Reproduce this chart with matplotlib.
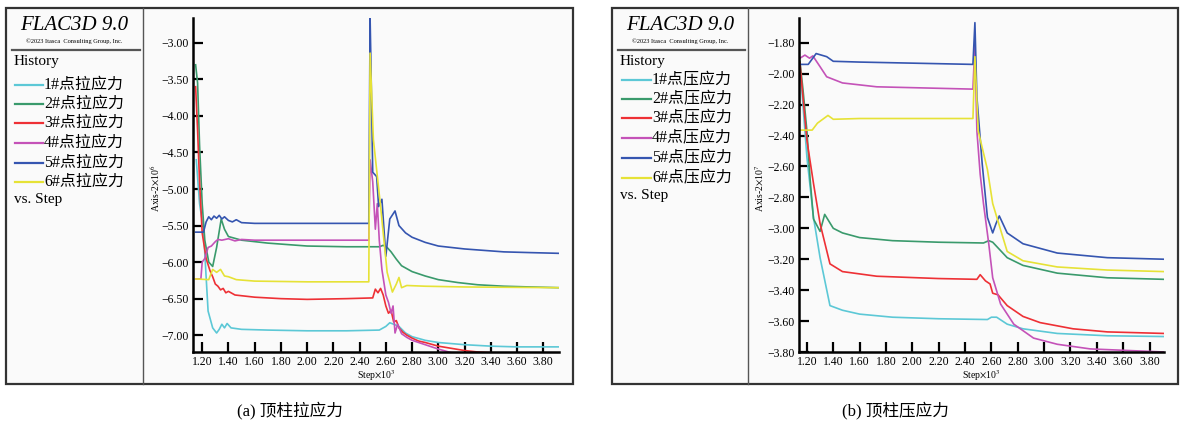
import matplotlib.pyplot as plt
from matplotlib.patches import Rectangle
from matplotlib.lines import Line2D
from matplotlib.ticker import FuncFormatter, MultipleLocator

plt.rcParams['mathtext.fontset'] = 'stix'
SERIF = ['Liberation Serif', 'Noto Sans CJK SC', 'DejaVu Serif']
CJK = ['Liberation Serif', 'Noto Sans CJK SC']

colors = ['#5cc8d6', '#3a9a6c', '#ee3035', '#c452b8', '#3555b0', '#e6e236']

# (a) tension histories, step x10^3 vs stress x10^6
a_names = ['1#点拉应力', '2#点拉应力', '3#点拉应力', '4#点拉应力', '5#点拉应力', '6#点拉应力']
a1_x = [1.155, 1.18, 1.21, 1.23, 1.245, 1.28, 1.31, 1.33, 1.35, 1.37, 1.39, 1.42, 1.50, 1.70, 2.00, 2.30, 2.55, 2.60, 2.63, 2.66, 2.70, 2.75, 2.80, 2.90, 3.00, 3.20, 3.40, 3.60, 3.92]
a1_y = [-4.60, -5.20, -5.55, -6.20, -6.67, -6.90, -6.97, -6.92, -6.85, -6.90, -6.84, -6.90, -6.92, -6.93, -6.94, -6.94, -6.93, -6.88, -6.83, -6.85, -6.88, -6.97, -7.02, -7.07, -7.10, -7.13, -7.15, -7.16, -7.16]
a2_x = [1.15, 1.165, 1.18, 1.20, 1.22, 1.25, 1.28, 1.31, 1.345, 1.37, 1.40, 1.50, 1.70, 2.00, 2.30, 2.55, 2.58, 2.61, 2.64, 2.68, 2.72, 2.80, 2.90, 3.00, 3.15, 3.30, 3.50, 3.70, 3.92]
a2_y = [-3.30, -3.55, -4.40, -5.20, -5.70, -6.00, -6.06, -5.80, -5.41, -5.55, -5.65, -5.70, -5.74, -5.78, -5.79, -5.79, -5.77, -5.80, -5.86, -5.96, -6.05, -6.13, -6.19, -6.24, -6.28, -6.31, -6.33, -6.34, -6.35]
a3_x = [1.15, 1.165, 1.18, 1.20, 1.23, 1.26, 1.28, 1.30, 1.32, 1.34, 1.36, 1.38, 1.40, 1.45, 1.50, 1.60, 1.80, 2.00, 2.30, 2.50, 2.52, 2.54, 2.56, 2.58, 2.60, 2.62, 2.64, 2.66, 2.68, 2.70, 2.73, 2.76, 2.80, 2.85, 2.90, 3.00, 3.10, 3.20, 3.30, 3.50, 3.92]
a3_y = [-3.60, -4.20, -4.90, -5.60, -5.95, -6.12, -6.20, -6.30, -6.33, -6.38, -6.36, -6.42, -6.40, -6.45, -6.46, -6.48, -6.50, -6.51, -6.50, -6.49, -6.37, -6.42, -6.36, -6.45, -6.60, -6.70, -6.66, -6.82, -6.80, -6.90, -6.96, -7.00, -7.04, -7.08, -7.10, -7.15, -7.18, -7.21, -7.23, -7.25, -7.27]
a4_x = [1.15, 1.19, 1.20, 1.22, 1.245, 1.27, 1.30, 1.32, 1.35, 1.40, 1.45, 1.50, 1.60, 1.80, 2.00, 2.47, 2.48, 2.50, 2.52, 2.535, 2.55, 2.57, 2.60, 2.62, 2.64, 2.655, 2.67, 2.69, 2.72, 2.76, 2.80, 2.90, 3.00, 3.10, 3.92]
a4_y = [-6.23, -6.23, -6.00, -5.95, -5.80, -5.78, -5.72, -5.69, -5.70, -5.68, -5.71, -5.69, -5.70, -5.70, -5.70, -5.70, -4.60, -4.90, -5.55, -5.20, -5.70, -6.10, -6.45, -6.55, -6.70, -6.60, -6.97, -6.85, -6.98, -7.03, -7.07, -7.13, -7.19, -7.24, -7.30]
a5_x = [1.15, 1.21, 1.23, 1.25, 1.27, 1.29, 1.31, 1.33, 1.35, 1.37, 1.40, 1.43, 1.46, 1.50, 1.60, 2.00, 2.47, 2.48, 2.485, 2.50, 2.53, 2.545, 2.57, 2.60, 2.63, 2.67, 2.70, 2.75, 2.80, 2.90, 3.00, 3.20, 3.50, 3.70, 3.92]
a5_y = [-5.59, -5.59, -5.45, -5.38, -5.42, -5.37, -5.40, -5.36, -5.41, -5.38, -5.43, -5.45, -5.42, -5.46, -5.47, -5.47, -5.47, -2.66, -3.14, -4.77, -4.83, -5.24, -5.14, -5.92, -5.41, -5.30, -5.50, -5.60, -5.66, -5.73, -5.78, -5.82, -5.86, -5.87, -5.88]
a6_x = [1.15, 1.25, 1.28, 1.31, 1.34, 1.37, 1.40, 1.46, 1.60, 2.00, 2.47, 2.48, 2.505, 2.56, 2.61, 2.65, 2.68, 2.70, 2.72, 2.76, 2.90, 3.20, 3.92]
a6_y = [-6.23, -6.24, -6.10, -6.14, -6.10, -6.19, -6.20, -6.24, -6.26, -6.27, -6.27, -3.14, -4.32, -5.24, -6.14, -6.41, -6.30, -6.21, -6.35, -6.32, -6.33, -6.34, -6.35]

# (b) compression histories, step x10^3 vs stress x10^7
b_names = ['1#点压应力', '2#点压应力', '3#点压应力', '4#点压应力', '5#点压应力', '6#点压应力']
b1_x = [1.147, 1.17, 1.20, 1.25, 1.30, 1.375, 1.47, 1.60, 1.85, 2.20, 2.57, 2.60, 2.64, 2.72, 2.84, 3.10, 3.48, 3.91]
b1_y = [-1.95, -2.20, -2.54, -2.93, -3.19, -3.50, -3.53, -3.555, -3.575, -3.585, -3.59, -3.575, -3.575, -3.62, -3.65, -3.68, -3.695, -3.70]
b2_x = [1.147, 1.17, 1.20, 1.225, 1.25, 1.30, 1.335, 1.40, 1.47, 1.60, 1.85, 2.20, 2.54, 2.58, 2.61, 2.72, 2.84, 3.10, 3.48, 3.91]
b2_y = [-1.92, -2.10, -2.37, -2.69, -2.94, -3.02, -2.91, -3.00, -3.03, -3.06, -3.08, -3.09, -3.095, -3.08, -3.09, -3.19, -3.24, -3.29, -3.32, -3.33]
b3_x = [1.147, 1.17, 1.20, 1.25, 1.30, 1.375, 1.47, 1.73, 2.20, 2.49, 2.515, 2.555, 2.59, 2.61, 2.65, 2.72, 2.84, 2.97, 3.22, 3.48, 3.91]
b3_y = [-1.93, -2.15, -2.43, -2.71, -2.97, -3.23, -3.28, -3.31, -3.325, -3.33, -3.30, -3.34, -3.36, -3.42, -3.43, -3.50, -3.57, -3.61, -3.65, -3.67, -3.68]
b4_x = [1.147, 1.185, 1.22, 1.245, 1.30, 1.35, 1.47, 1.73, 2.46, 2.475, 2.49, 2.515, 2.54, 2.58, 2.61, 2.67, 2.77, 2.92, 3.10, 3.35, 3.91]
b4_y = [-1.90, -1.88, -1.90, -1.885, -1.955, -2.02, -2.06, -2.085, -2.10, -1.80, -2.37, -2.65, -2.84, -3.10, -3.32, -3.49, -3.62, -3.71, -3.75, -3.78, -3.80]
b5_x = [1.147, 1.21, 1.27, 1.35, 1.40, 1.60, 2.46, 2.475, 2.49, 2.53, 2.57, 2.61, 2.635, 2.66, 2.72, 2.84, 3.10, 3.48, 3.91]
b5_y = [-1.94, -1.94, -1.87, -1.89, -1.92, -1.925, -1.94, -1.67, -2.15, -2.58, -2.93, -3.03, -2.97, -2.92, -3.03, -3.10, -3.16, -3.19, -3.20]
b6_x = [1.147, 1.24, 1.28, 1.36, 1.40, 1.60, 2.46, 2.475, 2.50, 2.57, 2.61, 2.67, 2.72, 2.84, 3.10, 3.48, 3.91]
b6_y = [-2.365, -2.365, -2.32, -2.27, -2.295, -2.29, -2.29, -1.89, -2.37, -2.62, -2.84, -3.01, -3.15, -3.21, -3.25, -3.27, -3.28]

a_series = [(a1_x, a1_y), (a2_x, a2_y), (a3_x, a3_y), (a4_x, a4_y), (a5_x, a5_y), (a6_x, a6_y)]
b_series = [(b1_x, b1_y), (b2_x, b2_y), (b3_x, b3_y), (b4_x, b4_y), (b5_x, b5_y), (b6_x, b6_y)]

W, H = 1180, 423
fig = plt.figure(figsize=(W / 100, H / 100), dpi=100)
fig.patch.set_facecolor('white')


def fx(x):
    return x / W


def fy(y):
    return 1 - y / H


def minus_fmt(v, pos):
    return f'{v:.2f}'.replace('-', '\u2212')


def panel(x0, x1, div, ax_l, ax_r, series, names, ylim, xlim, yticks, ylab, caption, cap_x,
          leg_y, line_x0, line_x1):
    fig.add_artist(Rectangle((fx(x0), fy(384)), fx(x1 - x0), (384 - 8) / H,
                             transform=fig.transFigure, fc='#fafafa', ec='#333333',
                             lw=1.6, zorder=-10))
    fig.add_artist(Line2D([fx(div), fx(div)], [fy(384), fy(8)], color='#555555', lw=1.0,
                          zorder=-5))
    fig.add_artist(Line2D([fx(x0 + 6), fx(div - 3)], [fy(50), fy(50)], color='#555555',
                          lw=1.6, zorder=-5))
    cx = (x0 + div) / 2
    fig.text(fx(cx), fy(25), 'FLAC3D 9.0', family=SERIF, style='italic', fontsize=15,
             ha='center', va='center')
    fig.text(fx(cx), fy(41), '\u00a92023 Itasca  Consulting Group, Inc.', family=SERIF,
             fontsize=4.6, ha='center', va='center')
    fig.text(fx(x0 + 8), fy(62), 'History', family=SERIF, fontsize=11, va='center')
    for i, nm in enumerate(names):
        yy = leg_y[i]
        fig.add_artist(Line2D([fx(line_x0), fx(line_x1)], [fy(yy), fy(yy)],
                              color=colors[i], lw=1.6))
        fig.text(fx(line_x1 + 1), fy(yy), nm, family=CJK, fontsize=11.5, va='center')
    fig.text(fx(x0 + 8), fy(leg_y[-1] + 17), 'vs. Step', family=SERIF, fontsize=11, va='center')

    ax = fig.add_axes([fx(ax_l), fy(352), fx(ax_r - ax_l), (352 - 18) / H])
    ax.patch.set_alpha(0)
    for (xs, ys), c in zip(series, colors):
        ax.plot(xs, ys, color=c, lw=1.2)
    ax.set_xlim(*xlim)
    ax.set_ylim(*ylim)
    for s in ['top', 'right']:
        ax.spines[s].set_visible(False)
    for s in ['left', 'bottom']:
        ax.spines[s].set_linewidth(1.8)
    ax.set_xticks([1.2 + 0.2 * k for k in range(14)])
    ax.set_yticks(yticks)
    ax.xaxis.set_major_formatter(FuncFormatter(minus_fmt))
    ax.yaxis.set_major_formatter(FuncFormatter(minus_fmt))
    ax.tick_params(direction='in', length=7, width=1.6, labelsize=8.5, pad=3)
    for lab in ax.get_xticklabels() + ax.get_yticklabels():
        lab.set_family(SERIF)
    fig.text(fx((ax_l + ax_r) / 2), fy(376), r'Step$\times$10$^3$', family=SERIF,
             fontsize=7, ha='center', va='center')
    fig.text(fx(div + 12), fy(188), ylab, family=SERIF, fontsize=7, rotation=90,
             ha='center', va='center')
    fig.text(fx(cap_x), fy(410), caption, family=CJK, fontsize=12, ha='center', va='center')
    return ax


panel(6, 573, 143, 193, 559, a_series, a_names, (-7.23, -2.66), (1.13, 3.92),
      [-3.0 - 0.5 * k for k in range(9)],
      r'Axis-2$\times$10$^6$', '(a) 顶柱拉应力', 290,
      [85, 104, 123, 143, 163, 182], 15, 43)

panel(612, 1178, 748, 799, 1164, b_series, b_names, (-3.80, -1.64), (1.14, 3.91),
      [-1.8 - 0.2 * k for k in range(11)],
      r'Axis-2$\times$10$^7$', '(b) 顶柱压应力', 895,
      [80, 99, 118, 138, 158, 178], 622, 651)

fig.savefig('out.png', dpi=100)
